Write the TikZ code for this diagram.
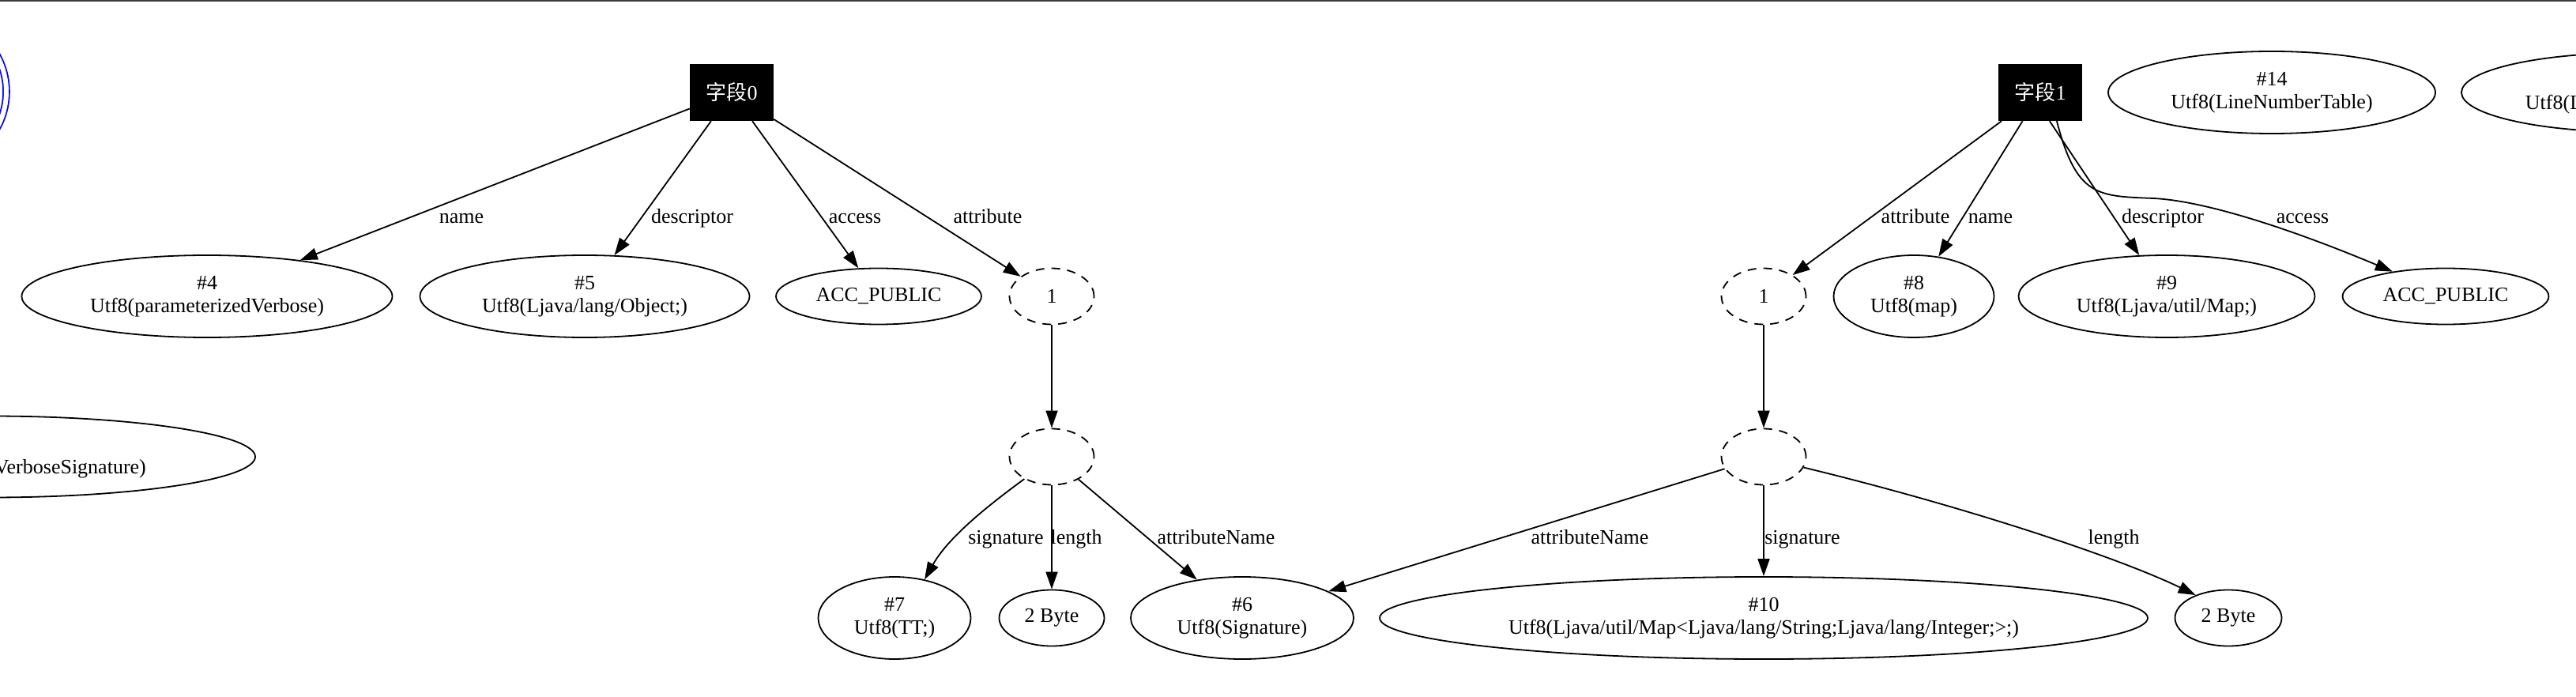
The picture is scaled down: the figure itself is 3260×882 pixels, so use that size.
\documentclass[tikz,border=0pt]{standalone}
\usepackage{fontspec}
\setmainfont{Liberation Serif}
\newfontfamily\cjk{Noto Sans CJK SC}
\usetikzlibrary{shapes,arrows.meta,positioning}
\definecolor{barcustom}{RGB}{60,63,66}

\begin{document}
\begin{tikzpicture}[x=1pt, y=-1pt,
        every node/.style={font=\fontsize{26}{29}\selectfont, inner sep=0pt},
        >={Triangle[length=22pt,width=15pt]},
        entry/.style={draw, ellipse, line width=1.8pt, align=center},
        hollow/.style={draw, ellipse, line width=1.8pt, dash pattern=on 11pt off 9pt, minimum width=107pt, minimum height=71pt},
        fieldbox/.style={fill=black, text=white, minimum width=106pt, minimum height=72pt},
        link/.style={->, line width=1.8pt},
        elabel/.style={anchor=base}]
        % Define the visible window
        \clip (0,0) rectangle (3260,882);
        \fill[barcustom] (0,0) rectangle (3260,2.5);

        % Field nodes
        \node[fieldbox] (f0) at (926,117) {{\cjk 字段}0};
        \node[fieldbox] (f1) at (2582,117) {{\cjk 字段}1};
        \node[circle, draw=blue, double, double distance=6pt, line width=1.8pt, minimum size=188pt] (ring) at (-86,116) {};
        \node[entry, minimum width=414pt, minimum height=104pt] (u14) at (2875,117) {\#14\\Utf8(LineNumberTable)};
        \node[entry, minimum width=430pt, minimum height=100pt] (lvt) at (3330,117) {\strut\\Utf8(LocalVariableTable)};

        % First level
        \node[entry, minimum width=469pt, minimum height=104pt] (u4) at (262,375) {\#4\\Utf8(parameterizedVerbose)};
        \node[entry, minimum width=417pt, minimum height=104pt] (u5) at (740,375) {\#5\\Utf8(Ljava/lang/Object;)};
        \node[entry, minimum width=260pt, minimum height=71pt] (pub0) at (1112,375) {ACC\_PUBLIC};
        \node[hollow] (one0) at (1331,375) {1};
        \node[hollow] (one1) at (2232,375) {1};
        \node[entry, minimum width=203pt, minimum height=104pt] (u8) at (2422,375) {\#8\\Utf8(map)};
        \node[entry, minimum width=375pt, minimum height=104pt] (u9) at (2742,375) {\#9\\Utf8(Ljava/util/Map;)};
        \node[entry, minimum width=261pt, minimum height=71pt] (pub1) at (3095,375) {ACC\_PUBLIC};

        % Attribute tables
        \node[entry, minimum width=672pt, minimum height=103pt] (vsig) at (-13,578) {\strut\\Utf8(parameterizedVerboseSignature)};
        \node[hollow] (attr0) at (1331,578) {};
        \node[hollow] (attr1) at (2232,578) {};

        % Second level
        \node[entry, minimum width=193pt, minimum height=104pt] (u7) at (1132,782) {\#7\\Utf8(TT;)};
        \node[entry, minimum width=133pt, minimum height=71pt] (byte0) at (1331,782) {2 Byte};
        \node[entry, minimum width=282pt, minimum height=104pt] (u6) at (1572,782) {\#6\\Utf8(Signature)};
        \node[entry, minimum width=972pt, minimum height=104pt] (u10) at (2232,782) {\#10\\\makebox[0pt]{Utf8(Ljava/util/Map<Ljava/lang/String;Ljava/lang/Integer;>;)}};
        \node[entry, minimum width=135pt, minimum height=71pt] (byte1) at (2820,782) {2 Byte};

        % Edges of field 0
        \draw[link] (f0) -- (u4);
        \draw[link] (f0) -- (u5);
        \draw[link] (f0) -- (pub0);
        \draw[link] (f0) -- (one0);
        \draw[link] (one0) -- (attr0);
        \draw[link] (attr0.219) .. controls (1250,640) and (1200,680) .. (u7.52);
        \draw[link] (attr0) -- (byte0);
        \draw[link] (attr0) -- (u6);

        % Edges of field 1
        \draw[link] (f1) -- (one1);
        \draw[link] (f1) -- (u8);
        \draw[link] (f1.-72) -- (u9);
        \draw[link] (f1.-60) .. controls (2628,250) and (2655,248) .. (2725,251) .. controls (2790,254) and (2900,290) .. (pub1.155);
        \draw[link] (one1) -- (attr1);
        \draw[link] (attr1) -- (u6);
        \draw[link] (attr1) -- (u10);
        \draw[link] (attr1.-15) .. controls (2483,640) and (2680,705) .. (byte1.145);

        % Edge labels
        \node[elabel] (lname0) at (584,283) {name};
        \node[elabel] (ldesc0) at (876,283) {descriptor};
        \node[elabel] (lacc0) at (1082,283) {access};
        \node[elabel] (lattr0) at (1250,283) {attribute};
        \node[elabel] (lattr1) at (2424,283) {attribute};
        \node[elabel] (lname1) at (2519,283) {name};
        \node[elabel] (ldesc1) at (2737,283) {descriptor};
        \node[elabel] (lacc1) at (2914,283) {access};
        \node[elabel] (lsig0) at (1273,688) {signature};
        \node[elabel] (llen0) at (1362,688) {length};
        \node[elabel] (lan0) at (1539,688) {attributeName};
        \node[elabel] (lan1) at (2012,688) {attributeName};
        \node[elabel] (lsig1) at (2281,688) {signature};
        \node[elabel] (llen1) at (2675,688) {length};
    \end{tikzpicture}
\end{document}
